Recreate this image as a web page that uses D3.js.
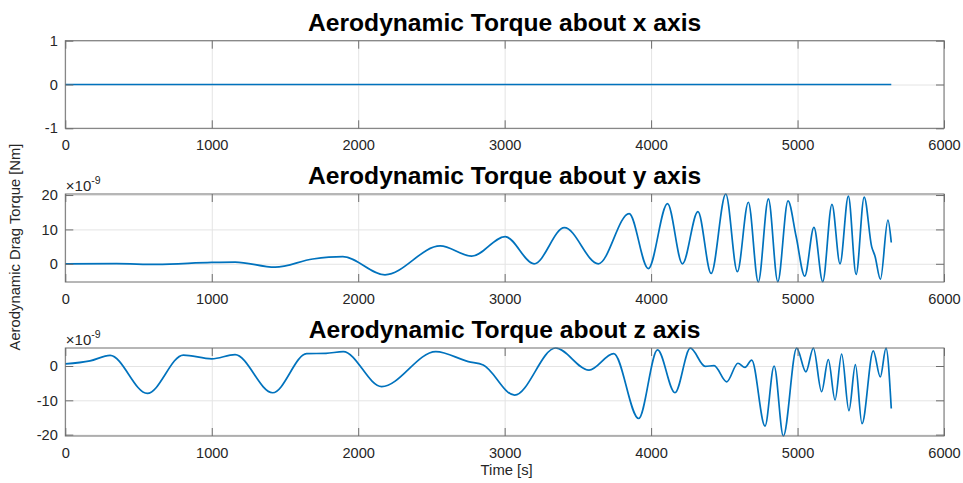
<!DOCTYPE html>
<html>
<head>
<meta charset="utf-8">
<script src="https://cdn.jsdelivr.net/npm/d3@7"></script>
<style>
  body { margin: 0; background: #ffffff; }
  svg text { font-family: "Liberation Sans", Arial, Helvetica, sans-serif; }
</style>
</head>
<body>
<svg id="chart" width="963" height="483"></svg>
<script>
// Simulation time axis [s]
const timeTicks = [0, 1000, 2000, 3000, 4000, 5000, 6000];
const timeDomain = [0, 6000];

// Torque about x: zero for the whole run
const xTime = [0, 5640];
const xTorque = [0, 0];
const xTicks = [-1, 0, 1];

// Torque about y, in units of 1e-9 N·m, sampled at its turning points
const yTime = [0, 350, 624, 1000, 1160, 1432, 1690, 1895, 2183, 2560, 2775, 3004, 3201, 3408, 3640,
  3850, 3981, 4112, 4214, 4320, 4410, 4510, 4589, 4664, 4732, 4801, 4865, 4935, 4990, 5049,
  5112, 5172, 5235, 5290, 5347, 5400, 5455, 5506, 5529, 5566, 5617, 5640];
const yTorque = [0, 0.05, -0.2, 0.4, 0.5, -1.0, 1.4, 2.1, -3.2, 5.2, 2.2, 7.9, 0.0, 10.5, 0.0,
  14.6, -1.4, 17.5, 0.0, 15.2, -2.8, 20.3, -2.3, 17.9, -5.3, 18.9, -5.2, 18.3, 8.0, -3.6,
  10.6, -5.2, 17.3, 0.0, 19.7, -3.1, 19.4, 5.0, 2.2, -4.5, 12.7, 6.2];
const yTicks = [0, 10, 20];

// Torque about z, in units of 1e-9 N·m, sampled at its turning points
const zTime = [0, 169, 306, 560, 806, 1000, 1159, 1416, 1648, 1780, 1898, 2160, 2530, 2752, 2854,
  3068, 3348, 3576, 3745, 3915, 4044, 4163, 4268, 4369, 4430, 4516, 4593, 4641, 4687, 4778,
  4840, 4903, 4994, 5057, 5108, 5164, 5210, 5256, 5301, 5351, 5395, 5440, 5517, 5565, 5604, 5640];
const zTorque = [0.6, 1.5, 3.1, -8.0, 3.2, 2.1, 3.3, -7.8, 3.6, 3.7, 4.2, -6.0, 4.2, 1.3, 0.3,
  -8.5, 5.25, -1.2, 3.6, -15.3, 4.7, -7.8, 5.2, -0.1, 0.1, -4.6, 0.8, -0.4, 1.7, -17.5,
  0.0, -20.4, 5.2, -1.7, 5.2, -7.5, 1.9, -9.9, 3.5, -13.0, 0.4, -16.8, 4.4, -3.2, 5.2, -12.4];
const zTicks = [-20, -10, 0];

const titles = [
  "Aerodynamic Torque about x axis",
  "Aerodynamic Torque about y axis",
  "Aerodynamic Torque about z axis"
];
const yLabel = "Aerodynamic Drag Torque [Nm]";
const xLabel = "Time [s]";
const exponentBase = "\u00D710";
const exponentPower = "-9";

// ---- layout and styling ----
const svg = d3.select("#chart");
const plotLeft = 65.3, plotRight = 944;
const lineColor = "#0072BD";
const boxColor = "#6e6e6e";
const gridColor = "#e4e4e4";
const textColor = "#262626";
const tickFont = 14.6;
const tickLen = 8;
const plainNumber = d => String(d);   // hyphen-minus, as in the plotting tool's labels

const panels = [
  { time: xTime, torque: xTorque, ticks: xTicks, domain: [-1, 1], title: titles[0], scaled: false, top: 40.7, bottom: 128.3 },
  { time: yTime, torque: yTorque, ticks: yTicks, domain: d3.extent(yTorque), title: titles[1], scaled: true, top: 194, bottom: 282 },
  { time: zTime, torque: zTorque, ticks: zTicks, domain: d3.extent(zTorque), title: titles[2], scaled: true, top: 348, bottom: 436 }
];

const x = d3.scaleLinear().domain(timeDomain).range([plotLeft, plotRight]);

panels.forEach(p => {
  const y = d3.scaleLinear().domain(p.domain).range([p.bottom, p.top]);
  const h = p.bottom - p.top;
  const w = plotRight - plotLeft;
  const g = svg.append("g");

  // grid lines
  g.append("g")
    .attr("transform", `translate(0,${p.bottom})`)
    .call(d3.axisBottom(x).tickValues(timeTicks).tickSize(-h).tickFormat(""))
    .call(s => s.select(".domain").remove())
    .call(s => s.selectAll("line").attr("stroke", gridColor).attr("stroke-width", 1));
  g.append("g")
    .attr("transform", `translate(${plotLeft},0)`)
    .call(d3.axisLeft(y).tickValues(p.ticks).tickSize(-w).tickFormat(""))
    .call(s => s.select(".domain").remove())
    .call(s => s.selectAll("line").attr("stroke", gridColor).attr("stroke-width", 1));

  // data line
  const line = d3.line()
    .x((d, i) => x(p.time[i]))
    .y(d => y(d))
    .curve(d3.curveMonotoneX);
  g.append("path")
    .datum(p.torque)
    .attr("d", line)
    .attr("fill", "none")
    .attr("stroke", lineColor)
    .attr("stroke-width", 1.7)
    .attr("stroke-linejoin", "round");

  // axes box
  g.append("rect")
    .attr("x", plotLeft).attr("y", p.top)
    .attr("width", w).attr("height", h)
    .attr("fill", "none").attr("stroke", boxColor).attr("stroke-width", 1);

  const styleAxis = s => {
    s.select(".domain").remove();
    s.selectAll("line").attr("stroke", boxColor);
    s.selectAll("text")
      .attr("fill", textColor)
      .attr("font-size", tickFont)
      .attr("font-family", "Liberation Sans, Arial, Helvetica, sans-serif");
  };

  // inward ticks on all four sides, labels bottom and left
  g.append("g").attr("transform", `translate(0,${p.bottom})`)
    .call(d3.axisBottom(x).tickValues(timeTicks).tickSizeInner(-tickLen).tickSizeOuter(0)
      .tickPadding(11.3).tickFormat(plainNumber))
    .call(styleAxis);
  g.append("g").attr("transform", `translate(0,${p.top})`)
    .call(d3.axisTop(x).tickValues(timeTicks).tickSizeInner(-tickLen).tickSizeOuter(0).tickFormat(""))
    .call(styleAxis);
  g.append("g").attr("transform", `translate(${plotLeft},0)`)
    .call(d3.axisLeft(y).tickValues(p.ticks).tickSizeInner(-tickLen).tickSizeOuter(0)
      .tickPadding(7.5).tickFormat(plainNumber))
    .call(styleAxis);
  g.append("g").attr("transform", `translate(${plotRight},0)`)
    .call(d3.axisRight(y).tickValues(p.ticks).tickSizeInner(-tickLen).tickSizeOuter(0).tickFormat(""))
    .call(styleAxis);

  // title
  g.append("text")
    .attr("x", (plotLeft + plotRight) / 2)
    .attr("y", p.top - 10)
    .attr("text-anchor", "middle")
    .attr("font-size", 24.6)
    .attr("font-weight", "bold")
    .attr("fill", "#000")
    .text(p.title);

  // axis exponent
  if (p.scaled) {
    const t = g.append("text")
      .attr("x", plotLeft + 0.5)
      .attr("y", p.top - 3.5)
      .attr("font-size", 15)
      .attr("fill", textColor);
    t.append("tspan").text(exponentBase);
    t.append("tspan").attr("font-size", 10.5).attr("dy", -7).text(exponentPower);
  }
});

// shared axis labels
svg.append("text")
  .attr("transform", "translate(20,247) rotate(-90)")
  .attr("text-anchor", "middle")
  .attr("font-size", 14.8)
  .attr("fill", textColor)
  .text(yLabel);

svg.append("text")
  .attr("x", (plotLeft + plotRight) / 2 + 2)
  .attr("y", 475)
  .attr("text-anchor", "middle")
  .attr("font-size", 14.8)
  .attr("fill", textColor)
  .text(xLabel);
</script>
</body>
</html>
